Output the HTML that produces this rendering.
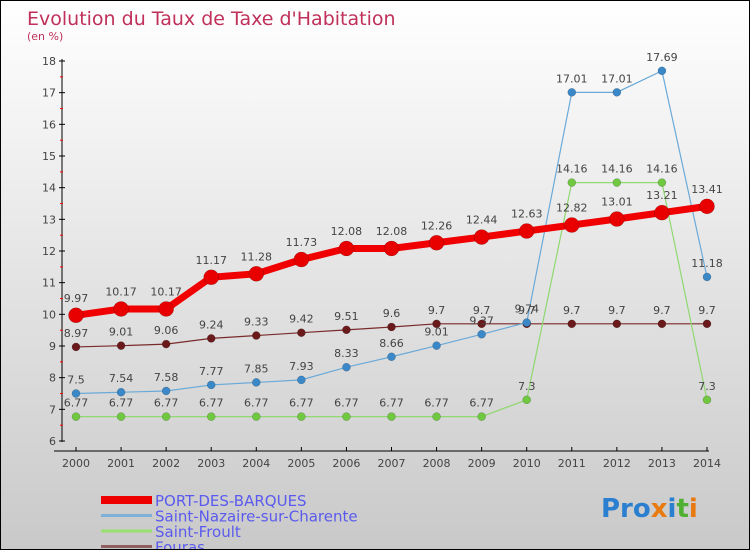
<!DOCTYPE html>
<html><head><meta charset="utf-8"><style>
html,body{margin:0;padding:0}
body{width:750px;height:550px;overflow:hidden}
#wrap{position:relative;width:748px;height:548px;border:1px solid #000;background:linear-gradient(#ffffff,#c9c9c9)}
svg{position:absolute;left:0;top:0}
text{font-family:"DejaVu Sans","Liberation Sans",sans-serif}
</style></head><body>
<div id="wrap">
<svg id="s" width="748" height="548">
<text x="26" y="24" font-size="19" fill="#c0305a">Evolution du Taux de Taxe d'Habitation</text>
<text x="26" y="39" font-size="11" fill="#c0305a">(en %)</text>
<g id="axes"></g><g id="series"></g>
<text x="600" y="516" font-size="26" font-weight="bold"><tspan fill="#2a7fd0">Pro</tspan><tspan fill="#e87a10">x</tspan><tspan fill="#2a7fd0">i</tspan><tspan fill="#50b030">t</tspan><tspan fill="#e87a10">i</tspan></text>
</svg></div>
<script>
const years=[2000,2001,2002,2003,2004,2005,2006,2007,2008,2009,2010,2011,2012,2013,2014];
const yTicks=[6,7,8,9,10,11,12,13,14,15,16,17,18];
const portDesBarques=[9.97,10.17,10.17,11.17,11.28,11.73,12.08,12.08,12.26,12.44,12.63,12.82,13.01,13.21,13.41];
const saintNazaire=[7.5,7.54,7.58,7.77,7.85,7.93,8.33,8.66,9.01,9.37,9.74,17.01,17.01,17.69,11.18];
const saintFroult=[6.77,6.77,6.77,6.77,6.77,6.77,6.77,6.77,6.77,6.77,7.3,14.16,14.16,14.16,7.3];
const fouras=[8.97,9.01,9.06,9.24,9.33,9.42,9.51,9.6,9.7,9.7,9.7,9.7,9.7,9.7,9.7];
const seriesNames=["PORT-DES-BARQUES","Saint-Nazaire-sur-Charente","Saint-Froult","Fouras"];
const NS="http://www.w3.org/2000/svg";
const xS=i=>75+i*(706-75)/(years.length-1);
const yS=v=>440-(v-6)*(380/12);
function mk(tag,attrs,parent){const e=document.createElementNS(NS,tag);for(const k in attrs)e.setAttribute(k,attrs[k]);parent.appendChild(e);return e;}
const ax=document.getElementById('axes'),sg=document.getElementById('series');
let l=mk('line',{x1:61,y1:58,x2:61,y2:441,stroke:'#000','stroke-width':1},ax);


l=mk('line',{x1:53,y1:450,x2:708,y2:450,stroke:'#000','stroke-width':1},ax);


yTicks.forEach((v,i)=>{const y=yS(v);
 mk('line',{x1:58,y1:y,x2:64,y2:y,stroke:'#000'},ax);
 if(i<yTicks.length-1)mk('line',{x1:59,y1:y-15.8,x2:62,y2:y-15.8,stroke:'#f00'},ax);
 const t=mk('text',{x:55,y:y+4,'font-size':11,fill:'#444','text-anchor':'end'},ax);t.textContent=v;
 
 });
years.forEach((yr,i)=>{const x=xS(i);
 mk('line',{x1:x,y1:446,x2:x,y2:450,stroke:'#000'},ax);
 const t=mk('text',{x:x,y:466,'font-size':11,fill:'#444','text-anchor':'middle'},ax);t.textContent=yr;
 
 });
function draw(data,color,dot,w,r,name){
 const p=mk('polyline',{points:data.map((v,i)=>xS(i)+','+yS(v)).join(' '),fill:'none',stroke:color,'stroke-width':w},sg);
 
 
 data.forEach((v,i)=>{const c=mk('circle',{cx:xS(i),cy:yS(v),r:r,fill:dot,stroke:'rgba(0,0,0,0.3)','stroke-width':0.5},sg);
  
  
  const t=mk('text',{x:xS(i),y:yS(v)-(r+6),'font-size':11,fill:'#444','text-anchor':'middle'},sg);t.textContent=v;
  
  });
}
draw(fouras,'#7a2a2a','#6a1a1a',1.2,4,'fouras');
draw(saintFroult,'#90d870','#70c840',1.2,4,'saint-froult');
draw(saintNazaire,'#6aaad8','#3a88c8',1.2,4,'saint-nazaire');
draw(portDesBarques,'#f00000','#e80000',7,7.5,'port-des-barques');
const lc=[['#ee0000',8],['#7fb0d8',3],['#98e070',3],['#906060',3]];
seriesNames.forEach((n,i)=>{const y=499+i*15.5;
 const ln=mk('line',{x1:100,y1:y,x2:151,y2:y,stroke:lc[i][0],'stroke-width':lc[i][1]},sg);
 
 
 const t=mk('text',{x:154,y:y+6,'font-size':15,fill:'#5a5aee'},sg);t.textContent=n;
 
 });
</script>
</body></html>
